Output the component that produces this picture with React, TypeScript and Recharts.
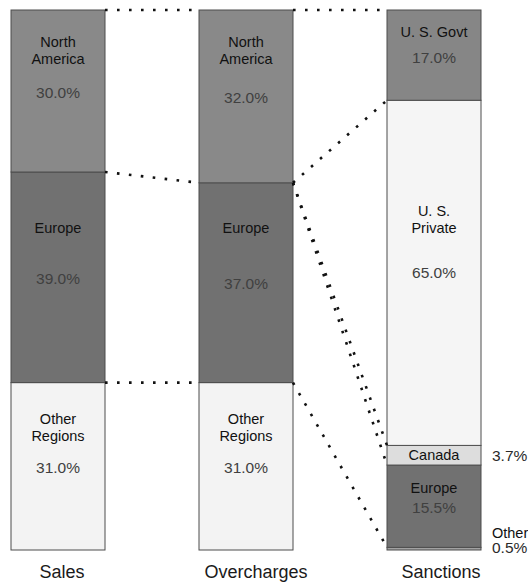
import React from 'react';
import { BarChart, Bar, XAxis, YAxis, ReferenceLine } from 'recharts';

const FONT = '"Liberation Sans", Arial, Helvetica, sans-serif';

const columns = ['Sales', 'Overcharges', 'Sanctions'];

// regional split of sales and overcharges, bottom of the stack first
const regionNames = ['Other\nRegions', 'Europe', 'North\nAmerica'];
const salesShares = [31.0, 39.0, 30.0];
const overchargeShares = [31.0, 37.0, 32.0];
const regionFills = ['#f3f3f3', '#717171', '#898989'];

// who received the sanctions, bottom first
const recipientNames = ['Other', 'Europe', 'Canada', 'U. S.\nPrivate', 'U. S. Govt'];
const sanctionShares = [0.5, 15.5, 3.7, 65.0, 17.0];
const recipientFills = ['#a2a2a2', '#717171', '#dddddd', '#f5f5f5', '#868686'];

// label nudges (px from the segment middle)
const regionNameDy: Record<string, number[]> = {
  Sales: [-47, -49, -49],
  Overcharges: [-47, -55, -54],
};
const recipientNameDy = [-16, -18, 0, -62, -23];
const recipientPctDy = [-1, 1, 0, 0, 2];
// inside: both texts in the bar; split: name inside, value beside; outside: both beside
const recipientPlacement = ['outside', 'inside', 'split', 'inside', 'inside'];
const tickNudge = [4, 10, 7];

const GAP = 0.25;

const sum = (a: number[]) => a.reduce((s, v) => s + v, 0);
const edge = (shares: number[], i: number) => sum(shares.slice(0, i));

const regionTotal = sum(salesShares);
const sanctionTotal = sum(sanctionShares);

const regionKeys = regionNames.map((_, i) => `r${i}`);
const recipientKeys = recipientNames.map((_, i) => `s${i}`);

const data = [
  { name: columns[0], ...Object.fromEntries(regionKeys.map((k, i) => [k, salesShares[i]])) },
  { name: columns[1], ...Object.fromEntries(regionKeys.map((k, i) => [k, overchargeShares[i]])) },
  { name: columns[2], ...Object.fromEntries(recipientKeys.map((k, i) => [k, sanctionShares[i]])) },
];

// sanctions sit on their own axis; bring their levels onto the region axis for the links
const toRegionAxis = (v: number) => (v * regionTotal) / sanctionTotal;

const links: [string, number, string, number][] = [
  [columns[0], edge(salesShares, 3), columns[1], edge(overchargeShares, 3)],
  [columns[0], edge(salesShares, 2), columns[1], edge(overchargeShares, 2)],
  [columns[0], edge(salesShares, 1), columns[1], edge(overchargeShares, 1)],
  [columns[1], edge(overchargeShares, 3), columns[2], toRegionAxis(edge(sanctionShares, 5))],
  [columns[1], edge(overchargeShares, 2), columns[2], toRegionAxis(edge(sanctionShares, 4))],
  [columns[1], edge(overchargeShares, 2), columns[2], toRegionAxis(edge(sanctionShares, 3))],
  [columns[1], edge(overchargeShares, 2), columns[2], toRegionAxis(edge(sanctionShares, 2))],
  [columns[1], edge(overchargeShares, 1), columns[2], toRegionAxis(edge(sanctionShares, 1))],
];

const pct = (v: number) => `${v.toFixed(1)}%`;

function NameLines({ x, y, text, anchor = 'middle' }: { x: number; y: number; text: string; anchor?: string }) {
  return (
    <>
      {text.split('\n').map((line, j) => (
        <text
          key={j}
          x={x}
          y={y + j * 17}
          textAnchor={anchor as any}
          dominantBaseline="central"
          fontSize={14.5}
          fontFamily={FONT}
          fill="#111"
        >
          {line}
        </text>
      ))}
    </>
  );
}

function makeSegment(key: string, index: number, isSanction: boolean) {
  return (props: any) => {
    const { x, y, width, height, payload } = props;
    const value = payload?.[key];
    if (value == null || !(height > 0)) return <g />;
    const cx = x + width / 2;
    const cy = y + height / 2;
    const right = x + width;
    const fill = isSanction ? recipientFills[index] : regionFills[index];
    const name = isSanction ? recipientNames[index] : regionNames[index];
    const place = isSanction ? recipientPlacement[index] : 'inside';
    const nameDy = isSanction ? recipientNameDy[index] : regionNameDy[payload.name][index];
    const pctDy = isSanction ? recipientPctDy[index] : 1;

    return (
      <g>
        <rect x={x} y={y} width={width} height={height} fill={fill} stroke="#4d4d4d" strokeWidth={1} />
        {place === 'outside' ? (
          <NameLines x={right + 11} y={cy + nameDy} text={name} anchor="start" />
        ) : (
          <NameLines x={cx} y={cy + nameDy} text={name} />
        )}
        <text
          x={place === 'inside' ? cx : right + 11}
          y={cy + pctDy}
          textAnchor={place === 'inside' ? 'middle' : 'start'}
          dominantBaseline="central"
          fontSize={15.5}
          fontFamily={FONT}
          fill={place === 'inside' ? '#404040' : '#2a2a2a'}
        >
          {pct(value)}
        </text>
      </g>
    );
  };
}

function Connector(props: any) {
  const { x1, y1, x2, y2 } = props;
  if ([x1, y1, x2, y2].some((v) => typeof v !== 'number' || Number.isNaN(v))) return <g />;
  const half = ((x2 - x1) * (1 - 2 * GAP)) / 2;
  return (
    <line
      x1={x1 + half}
      y1={y1}
      x2={x2 - half}
      y2={y2}
      stroke="#111"
      strokeWidth={2.6}
      strokeDasharray="2.6 9.4"
    />
  );
}

function ColumnTick({ x, y, payload, index }: any) {
  return (
    <text
      x={x + (tickNudge[index] ?? 0)}
      y={y}
      dy="0.71em"
      textAnchor="middle"
      fontSize={18}
      fontFamily={FONT}
      fill="#1a1a1a"
    >
      {payload.value}
    </text>
  );
}

export default function App() {
  return (
    <div style={{ position: 'absolute', left: -36, top: 0 }}>
      <BarChart
        width={564}
        height={582}
        data={data}
        margin={{ top: 10, right: 0, bottom: 0, left: 0 }}
        barCategoryGap={`${GAP * 100}%`}
        barGap={0}
      >
        <XAxis
          dataKey="name"
          height={32}
          axisLine={false}
          tickLine={false}
          tickSize={0}
          tickMargin={15}
          interval={0}
          tick={<ColumnTick />}
        />
        <XAxis dataKey="name" xAxisId="sanc" hide />
        <YAxis hide domain={[0, regionTotal]} />
        <YAxis yAxisId="sanc" hide domain={[0, sanctionTotal]} />
        {regionKeys.map((k, i) => (
          <Bar
            key={k}
            dataKey={k}
            stackId="regions"
            isAnimationActive={false}
            shape={makeSegment(k, i, false)}
          />
        ))}
        {recipientKeys.map((k, i) => (
          <Bar
            key={k}
            dataKey={k}
            stackId="sanctions"
            xAxisId="sanc"
            yAxisId="sanc"
            isAnimationActive={false}
            shape={makeSegment(k, i, true)}
          />
        ))}
        {links.map(([a, va, b, vb], i) => (
          <ReferenceLine
            key={i}
            segment={[
              { x: a, y: va },
              { x: b, y: vb },
            ]}
            ifOverflow="visible"
            shape={<Connector />}
          />
        ))}
      </BarChart>
    </div>
  );
}
